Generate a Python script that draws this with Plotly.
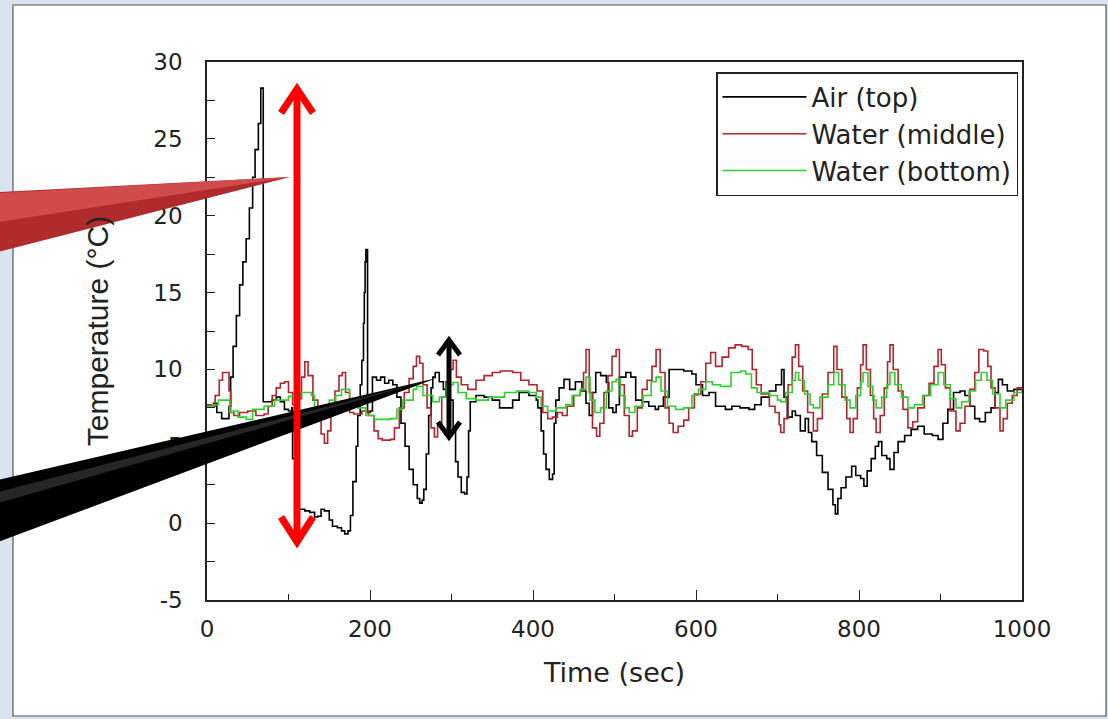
import plotly.graph_objects as go

# ---------------- data ----------------
air_time = [0, 8, 12, 18, 24, 27, 29, 32, 36, 40, 44, 48, 52, 56, 59, 63, 66, 68, 69, 75, 80, 85, 90, 95,
            100, 104, 105, 108, 112, 120, 126, 132, 136, 140, 144, 150, 154, 160, 165, 169, 173, 176, 179,
            183, 185, 188, 190, 192, 193, 194, 195, 196, 197, 200, 203, 208, 213, 218, 223, 228, 233, 238,
            243, 248, 253, 258, 261, 264, 266, 269, 272, 275, 277, 280, 285, 290, 294, 298, 302, 305, 308,
            312, 316, 319, 321, 323, 330, 340, 350, 359, 367, 375, 383, 395, 404, 406, 410, 413, 416, 420,
            424, 426, 428, 432, 438, 445, 452, 460, 465, 469, 473, 477, 483, 490, 493, 498, 502, 506, 514,
            520, 526, 534, 542, 550, 554, 560, 567, 575, 585, 595, 600, 608, 616, 624, 636, 644, 654, 665,
            672, 680, 690, 698, 705, 708, 712, 718, 722, 728, 734, 738, 742, 748, 755, 762, 768, 771, 774,
            778, 784, 791, 796, 802, 806, 810, 815, 820, 824, 828, 834, 838, 843, 848, 856, 864, 872, 880,
            890, 897, 903, 909, 916, 924, 930, 936, 942, 948, 955, 962, 967, 971, 976, 982, 990, 1000]
air_temp = [7.6, 7.8, 7.2, 6.8, 6.8, 7.6, 9.5, 11.5, 13.5, 15.5, 17.0, 18.5, 20.5, 22.5, 24.3, 26.0, 28.3,
            28.3, 7.9, 7.9, 8.0, 8.2, 7.9, 7.4, 7.3, 7.5, 4.2, 2.0, 0.9, 0.8, 0.7, 0.4, 0.45, 0.9, 0.8, 0.2,
            -0.2, -0.3, -0.5, -0.7, -0.5, 0.5, 2.7, 5.0, 7.0, 9.0, 10.6, 13.0, 15.0, 17.0, 17.8, 17.8, 7.2,
            7.3, 9.5, 9.3, 9.5, 9.1, 9.3, 9.0, 8.2, 6.5, 5.0, 3.5, 2.5, 1.6, 1.3, 1.5, 2.2, 4.5, 7.0, 8.8,
            9.5, 9.8, 9.2, 8.7, 8.5, 8.0, 6.0, 4.0, 3.0, 2.0, 1.9, 3.0, 6.0, 7.9, 8.3, 8.2, 8.0, 7.5, 7.5,
            8.0, 8.5, 8.3, 8.0, 7.5, 6.0, 4.5, 3.5, 2.85, 3.2, 6.5, 8.0, 8.8, 9.35, 8.7, 9.2, 8.6, 7.8, 7.0,
            8.5, 9.8, 9.6, 9.15, 7.5, 7.2, 7.7, 9.5, 9.8, 9.5, 8.0, 7.9, 7.6, 7.4, 7.6, 8.2, 10.0, 10.0, 9.9,
            9.7, 9.0, 8.3, 8.5, 7.6, 7.4, 7.6, 7.5, 7.4, 7.7, 8.2, 8.6, 9.0, 10.0, 8.2, 6.9, 7.3, 7.0, 6.0,
            6.8, 5.9, 5.3, 4.4, 3.3, 2.2, 1.2, 0.6, 1.6, 2.3, 3.0, 3.7, 3.1, 2.9, 2.4, 3.4, 4.2, 5.0, 5.3,
            4.4, 4.2, 3.5, 4.6, 5.3, 5.7, 6.1, 6.3, 5.8, 5.7, 5.45, 6.5, 7.4, 8.5, 8.6, 8.3, 7.6, 6.8, 6.6,
            7.2, 7.5, 8.5, 9.35, 9.0, 8.6, 8.7, 8.7]

mid_time = [0, 5, 10, 15, 19, 23, 27, 29, 33, 40, 50, 60, 70, 75, 80, 85, 90, 95, 100, 105, 110, 116, 120,
            124, 130, 136, 140, 144, 148, 152, 157, 162, 166, 170, 175, 180, 190, 198, 205, 210, 215, 225,
            230, 236, 242, 248, 253, 257, 261, 265, 270, 275, 279, 283, 288, 293, 298, 302, 306, 312, 320,
            330, 340, 350, 360, 375, 385, 395, 405, 412, 418, 424, 430, 436, 442, 450, 458, 462, 465, 469,
            473, 478, 482, 487, 492, 497, 502, 506, 512, 518, 522, 528, 534, 540, 546, 551, 556, 562, 567,
            572, 578, 585, 591, 598, 606, 612, 618, 624, 632, 640, 648, 656, 664, 669, 674, 680, 690, 697,
            702, 704, 708, 713, 718, 722, 726, 731, 737, 744, 749, 755, 762, 769, 773, 779, 785, 789, 793,
            798, 802, 805, 809, 814, 818, 821, 826, 831, 835, 838, 842, 848, 854, 860, 866, 872, 880, 886,
            892, 897, 901, 906, 912, 919, 924, 930, 936, 942, 947, 953, 958, 962, 967, 973, 977, 982, 988,
            994, 1000]
mid_temp = [7.7, 7.6, 8.3, 9.3, 9.8, 9.8, 8.6, 7.2, 7.0, 7.2, 7.3, 7.0, 7.1, 7.6, 8.3, 8.8, 9.1, 9.2, 8.5,
            7.7, 8.1, 9.5, 10.5, 9.6, 8.0, 6.8, 5.8, 5.2, 6.0, 7.4, 8.6, 9.6, 9.8, 8.5, 7.2, 7.1, 7.3, 7.0,
            6.0, 5.5, 5.4, 5.45, 6.2, 7.5, 8.5, 9.4, 10.2, 10.85, 10.4, 9.0, 7.5, 6.2, 5.6, 6.5, 8.2, 9.2,
            10.0, 10.6, 9.5, 9.0, 8.7, 9.3, 9.6, 9.8, 9.9, 9.8, 9.3, 9.0, 8.6, 7.2, 6.8, 6.9, 7.2, 7.0, 7.6,
            8.3, 8.6, 9.8, 11.3, 8.5, 6.2, 5.65, 6.5, 8.5, 9.6, 10.85, 11.3, 9.0, 7.0, 5.65, 6.0, 7.5, 8.7,
            9.3, 10.2, 11.3, 9.8, 7.5, 6.5, 5.9, 6.3, 6.7, 7.5, 8.4, 9.2, 10.4, 11.1, 10.2, 10.8, 11.4, 11.6,
            11.5, 11.3, 10.0, 9.0, 8.4, 7.6, 7.2, 6.4, 5.9, 6.8, 9.0, 10.8, 11.6, 10.2, 8.6, 7.2, 6.0, 6.8,
            8.4, 9.8, 11.5, 10.0, 8.2, 6.8, 5.9, 6.8, 8.8, 10.3, 11.6, 10.0, 8.3, 6.8, 5.9, 7.0, 8.8, 10.5,
            11.6, 10.0, 8.6, 7.4, 6.2, 6.6, 7.5, 8.3, 9.1, 10.2, 11.3, 10.3, 8.8, 7.3, 6.0, 6.5, 7.6, 8.7,
            9.8, 11.3, 11.2, 10.2, 8.8, 7.5, 6.0, 6.8, 7.8, 8.3, 8.8, 8.6]

bot_time = [0, 8, 14, 24, 28, 32, 38, 48, 56, 70, 83, 100, 115, 128, 132, 140, 150, 158, 165, 175, 185,
            195, 205, 225, 233, 240, 253, 257, 265, 277, 285, 294, 302, 308, 318, 330, 345, 365, 380, 395,
            404, 410, 418, 428, 440, 448, 458, 465, 470, 476, 483, 490, 497, 502, 507, 513, 518, 525, 535,
            545, 551, 557, 565, 575, 585, 595, 603, 612, 620, 630, 643, 655, 661, 668, 675, 690, 700, 704,
            710, 718, 722, 726, 733, 740, 744, 752, 762, 769, 775, 783, 789, 796, 802, 805, 811, 817, 821,
            828, 834, 838, 844, 852, 860, 868, 878, 888, 897, 904, 912, 919, 926, 935, 943, 950, 957, 964,
            973, 980, 990, 1000]
bot_temp = [7.6, 7.7, 8.0, 8.0, 7.2, 7.3, 6.9, 6.75, 7.4, 7.6, 8.0, 8.25, 8.5, 8.3, 7.4, 6.95, 8.0, 8.3,
            8.7, 7.9, 7.5, 7.0, 6.75, 6.8, 7.4, 8.0, 8.7, 8.9, 8.3, 7.9, 8.2, 9.0, 9.15, 8.5, 8.1, 8.0, 8.2,
            8.5, 8.6, 8.5, 8.2, 7.6, 7.3, 7.5, 7.7, 8.3, 8.7, 9.5, 8.0, 7.2, 7.5, 8.6, 9.2, 9.35, 8.3, 7.5,
            7.2, 7.6, 8.3, 9.2, 9.5, 8.6, 7.6, 7.4, 7.5, 8.3, 8.7, 9.2, 9.0, 8.9, 9.8, 9.9, 9.7, 8.8, 8.5,
            8.3, 8.0, 7.9, 8.5, 9.3, 9.8, 9.3, 8.4, 7.7, 7.5, 8.2, 9.0, 9.8, 9.0, 8.0, 7.5, 8.3, 9.2, 9.8,
            8.9, 8.0, 7.5, 8.2, 9.0, 9.8, 9.0, 8.2, 7.5, 7.7, 8.3, 9.0, 9.8, 9.0, 8.1, 7.5, 7.9, 8.6, 9.3,
            9.8, 9.3, 8.4, 7.5, 8.0, 8.5, 8.7]

series_names = ["Air (top)", "Water (middle)", "Water (bottom)"]
series_colors = ["#000000", "#b3242c", "#2fcf2f"]

y_tick_values = [-5, 0, 5, 10, 15, 20, 25, 30]
y_tick_labels = ["-5", "0", "5", "10", "15", "20", "25", "30"]
x_tick_values = [0, 200, 400, 600, 800, 1000]
x_tick_labels = ["0", "200", "400", "600", "800", "1000"]

# ---------------- page geometry (pixels) ----------------
W_PX, H_PX = 1108, 719
L, R, T, B = 207, 1022, 62, 600
PW, PH = R - L, B - T


def px(x):
    return (x - L) / PW


def py(y):
    return (B - y) / PH


def path(points, close=False):
    s = "M " + " L ".join(f"{px(a):.5f},{py(b):.5f}" for a, b in points)
    return s + (" Z" if close else "")


fig = go.Figure()
for name, color, xs, ys in zip(series_names, series_colors,
                               [air_time, mid_time, bot_time],
                               [air_temp, mid_temp, bot_temp]):
    fig.add_trace(go.Scatter(x=xs, y=ys, mode="lines", name=name, line_shape="hv",
                             line=dict(color=color, width=1.6)))

shapes = []
# slide frame
shapes.append(dict(type="rect", xref="paper", yref="paper", layer="below",
                   x0=px(13), x1=px(1106), y0=py(716), y1=py(5),
                   fillcolor="white", line=dict(color="#555555", width=1.2)))
# red callout wedge
shapes.append(dict(type="path", xref="paper", yref="paper", layer="above",
                   path=path([(-2, 192), (290, 177), (-2, 252)], True),
                   fillcolor="#b02c2c", line=dict(width=0)))
shapes.append(dict(type="path", xref="paper", yref="paper", layer="above",
                   path=path([(-2, 193), (290, 177), (-2, 222)], True),
                   fillcolor="#d04c4c", line=dict(width=0)))
# black callout wedge
shapes.append(dict(type="path", xref="paper", yref="paper", layer="above",
                   path=path([(-2, 480), (437, 378), (-2, 542)], True),
                   fillcolor="#000000", line=dict(width=0)))
shapes.append(dict(type="path", xref="paper", yref="paper", layer="above",
                   path=path([(-2, 492), (437, 378), (-2, 503)], True),
                   fillcolor="#262626", line=dict(width=0)))
# red double arrow
red = "#ff0000"
shapes.append(dict(type="line", xref="paper", yref="paper", layer="above",
                   x0=px(297), x1=px(297), y0=py(90), y1=py(543), line=dict(color=red, width=7)))
shapes.append(dict(type="path", xref="paper", yref="paper", layer="above",
                   path=path([(281, 113), (297, 89), (313, 113)]), line=dict(color=red, width=7)))
shapes.append(dict(type="path", xref="paper", yref="paper", layer="above",
                   path=path([(281, 517), (297, 542), (313, 517)]), line=dict(color=red, width=7)))
# black double arrow
shapes.append(dict(type="line", xref="paper", yref="paper", layer="above",
                   x0=px(449), x1=px(449), y0=py(341), y1=py(436), line=dict(color="black", width=5)))
shapes.append(dict(type="path", xref="paper", yref="paper", layer="above",
                   path=path([(438, 355), (449, 340), (460, 355)]), line=dict(color="black", width=5)))
shapes.append(dict(type="path", xref="paper", yref="paper", layer="above",
                   path=path([(438, 422), (449, 437), (460, 422)]), line=dict(color="black", width=5)))

font_main = "'DejaVu Sans', Lato, sans-serif"
ink = "#222222"

fig.update_layout(
    width=W_PX, height=H_PX,
    margin=dict(l=L, r=W_PX - R, t=T, b=H_PX - B, pad=0),
    paper_bgcolor="#d8e5f0",
    plot_bgcolor="white",
    shapes=shapes,
    showlegend=True,
    legend=dict(x=px(1018), y=py(72), xanchor="right", yanchor="top",
                bgcolor="white", bordercolor=ink, borderwidth=1.5,
                font=dict(family=font_main, size=26, color=ink),
                itemwidth=84, tracegroupgap=0),
    font=dict(family=font_main, color=ink),
)
fig.update_xaxes(range=[0, 1000], tickvals=x_tick_values, ticktext=x_tick_labels,
                 ticks="inside", ticklen=10, tickwidth=1.3, tickcolor=ink,
                 minor=dict(dtick=100, ticks="inside", ticklen=6, tickwidth=1.3, tickcolor=ink),
                 showline=True, mirror=True, linecolor=ink, linewidth=1.5,
                 showgrid=False, zeroline=False, ticklabelstandoff=8,
                 tickfont=dict(size=23, family=font_main, color=ink),
                 title=dict(text="Time (sec)", standoff=22,
                            font=dict(size=27, family=font_main, color=ink)))
fig.update_yaxes(range=[-5, 30], tickvals=y_tick_values, ticktext=y_tick_labels,
                 ticks="inside", ticklen=8, tickwidth=1.3, tickcolor=ink,
                 minor=dict(dtick=2.5, ticks="inside", ticklen=8, tickwidth=1.3, tickcolor=ink),
                 showline=True, mirror=True, linecolor=ink, linewidth=1.5,
                 showgrid=False, zeroline=False, ticklabelstandoff=18,
                 tickfont=dict(size=23, family=font_main, color=ink),
                 title=dict(text="Temperature (°C)", standoff=36,
                            font=dict(size=30, family="'Liberation Sans', Arial, sans-serif",
                                      color=ink)))

fig.write_html("out.html", config={"displayModeBar": False},
               post_script="document.body.style.margin='0';document.body.style.overflow='hidden';")
